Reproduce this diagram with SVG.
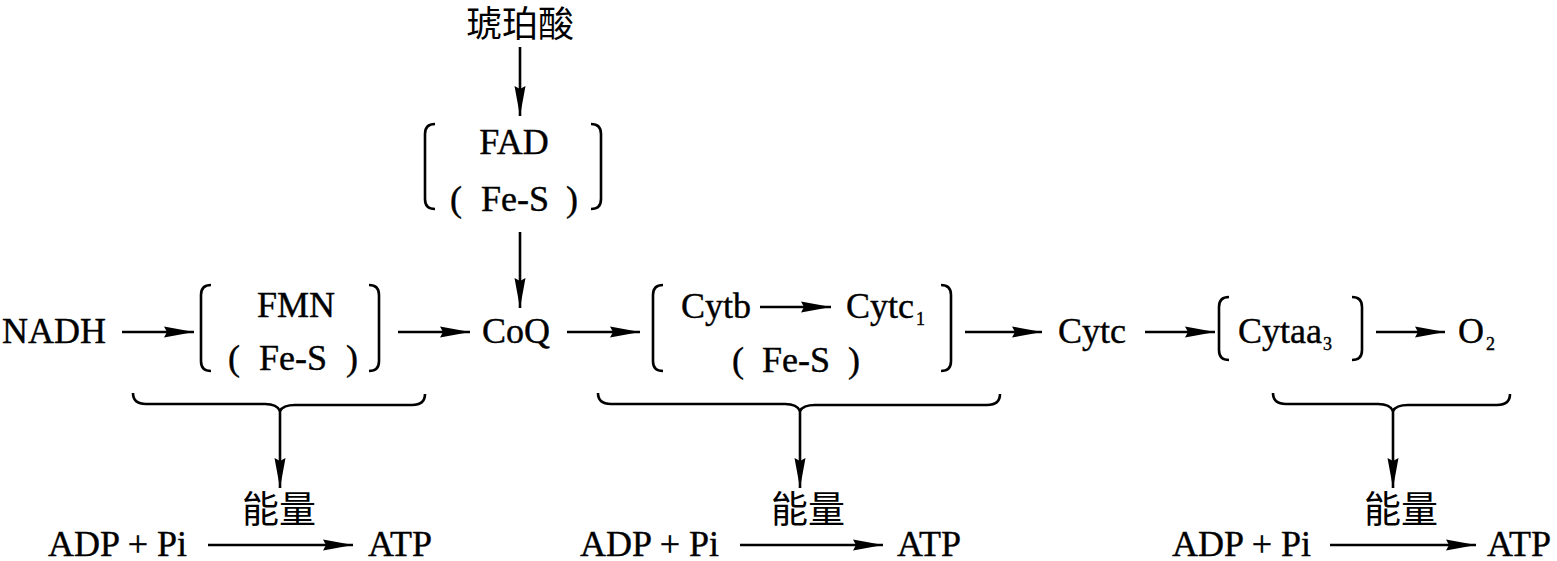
<svg xmlns="http://www.w3.org/2000/svg" width="1557" height="561" viewBox="0 0 1557 561">
<style>
text{font-family:"Liberation Serif","Noto Sans CJK SC",serif;font-size:36px;fill:#000;stroke:#000;stroke-width:0.4}
.cn{font-family:"Noto Sans CJK SC",serif;font-size:37px;stroke-width:0}
.top{font-size:36px}
.sub{font-size:18px}
.ln{stroke:#000;stroke-width:2.6;fill:none}
.ar{stroke:#000;stroke-width:2.6;fill:none;marker-end:url(#ah)}
</style>
<defs>
<marker id="ah" markerUnits="userSpaceOnUse" viewBox="-31 -7 32 14" refX="0" refY="0" markerWidth="32" markerHeight="14" orient="auto">
<path d="M0,0 L-30,-5.5 L-27,0 L-30,5.5 Z" fill="#000"/>
</marker>
</defs>
<rect width="1557" height="561" fill="#fff"/>

<g id="succinate"><text class="cn top" x="520" y="37" text-anchor="middle">琥珀酸</text></g>

<g id="fad">
<path class="ln" d="M435,124 Q425,124 425,134 L425,199 Q425,209 435,209"/>
<path class="ln" d="M591,124 Q601,124 601,134 L601,199 Q601,209 591,209"/>
<text x="514" y="154" text-anchor="middle">FAD</text>
<text x="450" y="211">(<tspan x="481">Fe-S</tspan><tspan x="566">)</tspan></text>
</g>

<g id="nadh"><text x="2" y="343">NADH</text></g>

<g id="fmn">
<path class="ln" d="M211,285 Q201,285 201,295 L201,361 Q201,371 211,371"/>
<path class="ln" d="M369,285 Q379,285 379,295 L379,361 Q379,371 369,371"/>
<text x="296" y="317" text-anchor="middle">FMN</text>
<text x="228" y="370">(<tspan x="259">Fe-S</tspan><tspan x="346">)</tspan></text>
</g>

<g id="coq"><text x="482" y="343">CoQ</text></g>

<g id="cytb">
<path class="ln" d="M663,285 Q653,285 653,295 L653,361 Q653,371 663,371"/>
<path class="ln" d="M941,285 Q951,285 951,295 L951,361 Q951,371 941,371"/>
<text x="681" y="318">Cytb</text>
<text x="846" y="318">Cytc<tspan class="sub" dx="2" dy="7">1</tspan></text>
<text x="732" y="372">(<tspan x="762">Fe-S</tspan><tspan x="848">)</tspan></text>
</g>

<g id="cytc"><text x="1058" y="343">Cytc</text></g>

<g id="cytaa3">
<path class="ln" d="M1229,297 Q1219,297 1219,307 L1219,350 Q1219,360 1229,360"/>
<path class="ln" d="M1352,297 Q1362,297 1362,307 L1362,350 Q1362,360 1352,360"/>
<text x="1238" y="343">Cytaa<tspan class="sub" dx="1" dy="7">3</tspan></text>
</g>

<g id="o2"><text x="1458" y="343">O<tspan class="sub" dx="2" dy="7">2</tspan></text></g>

<g id="energy1">
<text class="cn" x="279" y="523" text-anchor="middle">能量</text>
<text x="48" y="556">ADP + Pi</text>
<text x="368" y="556">ATP</text>
</g>
<g id="energy2">
<text class="cn" x="808" y="523" text-anchor="middle">能量</text>
<text x="580" y="556">ADP + Pi</text>
<text x="897" y="556">ATP</text>
</g>
<g id="energy3">
<text class="cn" x="1401" y="523" text-anchor="middle">能量</text>
<text x="1172" y="556">ADP + Pi</text>
<text x="1487" y="556">ATP</text>
</g>

<g id="connectors">
<line class="ar" x1="520" y1="47" x2="520" y2="116"/>
<line class="ar" x1="520" y1="232" x2="520" y2="308"/>
<line class="ar" x1="122" y1="332" x2="194" y2="332"/>
<line class="ar" x1="398" y1="332" x2="470" y2="332"/>
<line class="ar" x1="567" y1="332" x2="640" y2="332"/>
<line class="ar" x1="760" y1="307" x2="831" y2="307"/>
<line class="ar" x1="965" y1="332" x2="1042" y2="332"/>
<line class="ar" x1="1145" y1="332" x2="1215" y2="332"/>
<line class="ar" x1="1376" y1="332" x2="1445" y2="332"/>
<path class="ln" d="M133,393 Q133,404 146,404 L265,404 Q277,404 280,411 Q283,405 295,405 L412,405 Q425,405 425,394"/>
<path class="ln" d="M598,393 Q598,404 611,404 L785,404 Q797,404 800,411 Q803,405 815,405 L987,405 Q1000,405 1000,394"/>
<path class="ln" d="M1273,393 Q1273,404 1286,404 L1378,404 Q1390,404 1393,411 Q1396,405 1408,405 L1497,405 Q1510,405 1510,394"/>
<line class="ar" x1="280" y1="410" x2="280" y2="488"/>
<line class="ar" x1="800" y1="410" x2="800" y2="488"/>
<line class="ar" x1="1393" y1="410" x2="1393" y2="488"/>
<line class="ar" x1="208" y1="545" x2="353" y2="545"/>
<line class="ar" x1="740" y1="545" x2="883" y2="545"/>
<line class="ar" x1="1330" y1="545" x2="1476" y2="545"/>
</g>
</svg>
